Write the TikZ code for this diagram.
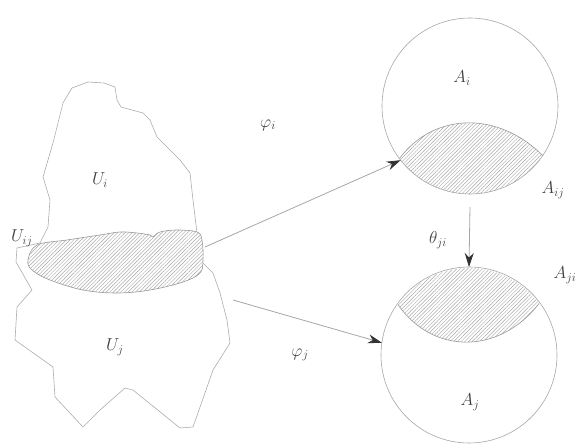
\documentclass[tikz,border=0pt]{standalone}
\usepackage{amsmath}
\usepackage{tikz}
\usetikzlibrary{arrows.meta,positioning,patterns.meta}

\begin{document}
\begin{tikzpicture}[x=1pt,y=-1pt,>={Stealth[length=14pt,width=9pt,color=black!80]},
  edge/.style={gray!65,line width=0.6pt},
  hatch/.style={pattern={Lines[angle=45,distance=2.6pt,line width=0.45pt]},pattern color=gray!70},
  chart/.style={circle,draw=gray!70,line width=0.6pt,minimum size=176pt,inner sep=0pt,outer sep=0pt},
  map/.style={->,gray!70,line width=0.8pt},
  lab/.style={text=black!75,font=\LARGE}]
  \useasboundingbox (0,0) rectangle (582,446);
  % the patch U_i and U_j (rough outline)
  \draw[edge] (63,103) -- (72,88) -- (88,82) -- (104,83) -- (115,87) -- (117,100) -- (121,107)
    -- (143,113) -- (150,120) -- (157,137) -- (180,160) -- (190,173) -- (193,200) -- (197,233)
    -- (200,260) -- (213,273) -- (220,293) -- (227,320) -- (230,343) -- (213,370) -- (193,427)
    -- (180,428) -- (133,390) -- (125,388) -- (100,410) -- (83,427) -- (55,397) -- (53,367)
    -- (15,340) -- (17,307) -- (32,290) -- (16,262) -- (17,248) -- (40,243) -- (48,227)
    -- (50,200) -- (43,177) -- (53,143) -- cycle;
  % overlap U_ij
  \draw[edge,gray!80,preaction={fill=white},hatch] plot[smooth cycle,tension=0.6] coordinates {
    (28,260) (37,245) (67,240) (100,235) (120,232) (137,233) (150,235) (153,237) (160,232)
    (177,230) (197,232) (202,240) (203,260) (200,273) (183,282) (150,290) (117,293) (83,290)
    (50,280) (32,270)};
  \coordinate (ui-out) at (205,247);
  \coordinate (uj-out) at (233,300);
  % the two charts
  \node[chart] (Ai) at (470,106) {};
  \node[chart] (Aj) at (469,355) {};
  \begin{scope}
    \clip (470,106) circle (88);
    \path[hatch] (395,165) .. controls (430,110) and (500,110) .. (545,158) -- (560,200) -- (380,200) -- cycle;
    \draw[edge,gray!80] (395,165) .. controls (430,110) and (500,110) .. (545,158);
  \end{scope}
  \begin{scope}
    \clip (469,355) circle (87);
    \path[hatch] (395,300) .. controls (430,357) and (505,357) .. (545,295) -- (560,260) -- (380,260) -- cycle;
    \draw[edge,gray!80] (395,300) .. controls (430,357) and (505,357) .. (545,295);
  \end{scope}
  % maps
  \draw[map] (ui-out) -- (Ai.218);
  \draw[map] (uj-out) -- (Aj.172);
  \draw[map] ([yshift=-13pt]Ai.south) -- (Aj.north);
  % labels
  \node[lab] (Ui) at (100,180) {$U_i$};
  \node[lab] (Uj) at (115,347) {$U_j$};
  \node[lab] (Uij) at (22,238) {$U_{ij}$};
  \node[lab] (phii) at (268,125) {$\varphi_i$};
  \node[lab] (phij) at (300,355) {$\varphi_j$};
  \node[lab] (thji) at (438,240) {$\theta_{ji}$};
  \node[lab] (Ailab) at (462,78) {$A_i$};
  \node[lab] (Ajlab) at (470,402) {$A_j$};
  \node[lab] (Aij) at (553,190) {$A_{ij}$};
  \node[lab] (Aji) at (565,275) {$A_{ji}$};
\end{tikzpicture}
\end{document}
